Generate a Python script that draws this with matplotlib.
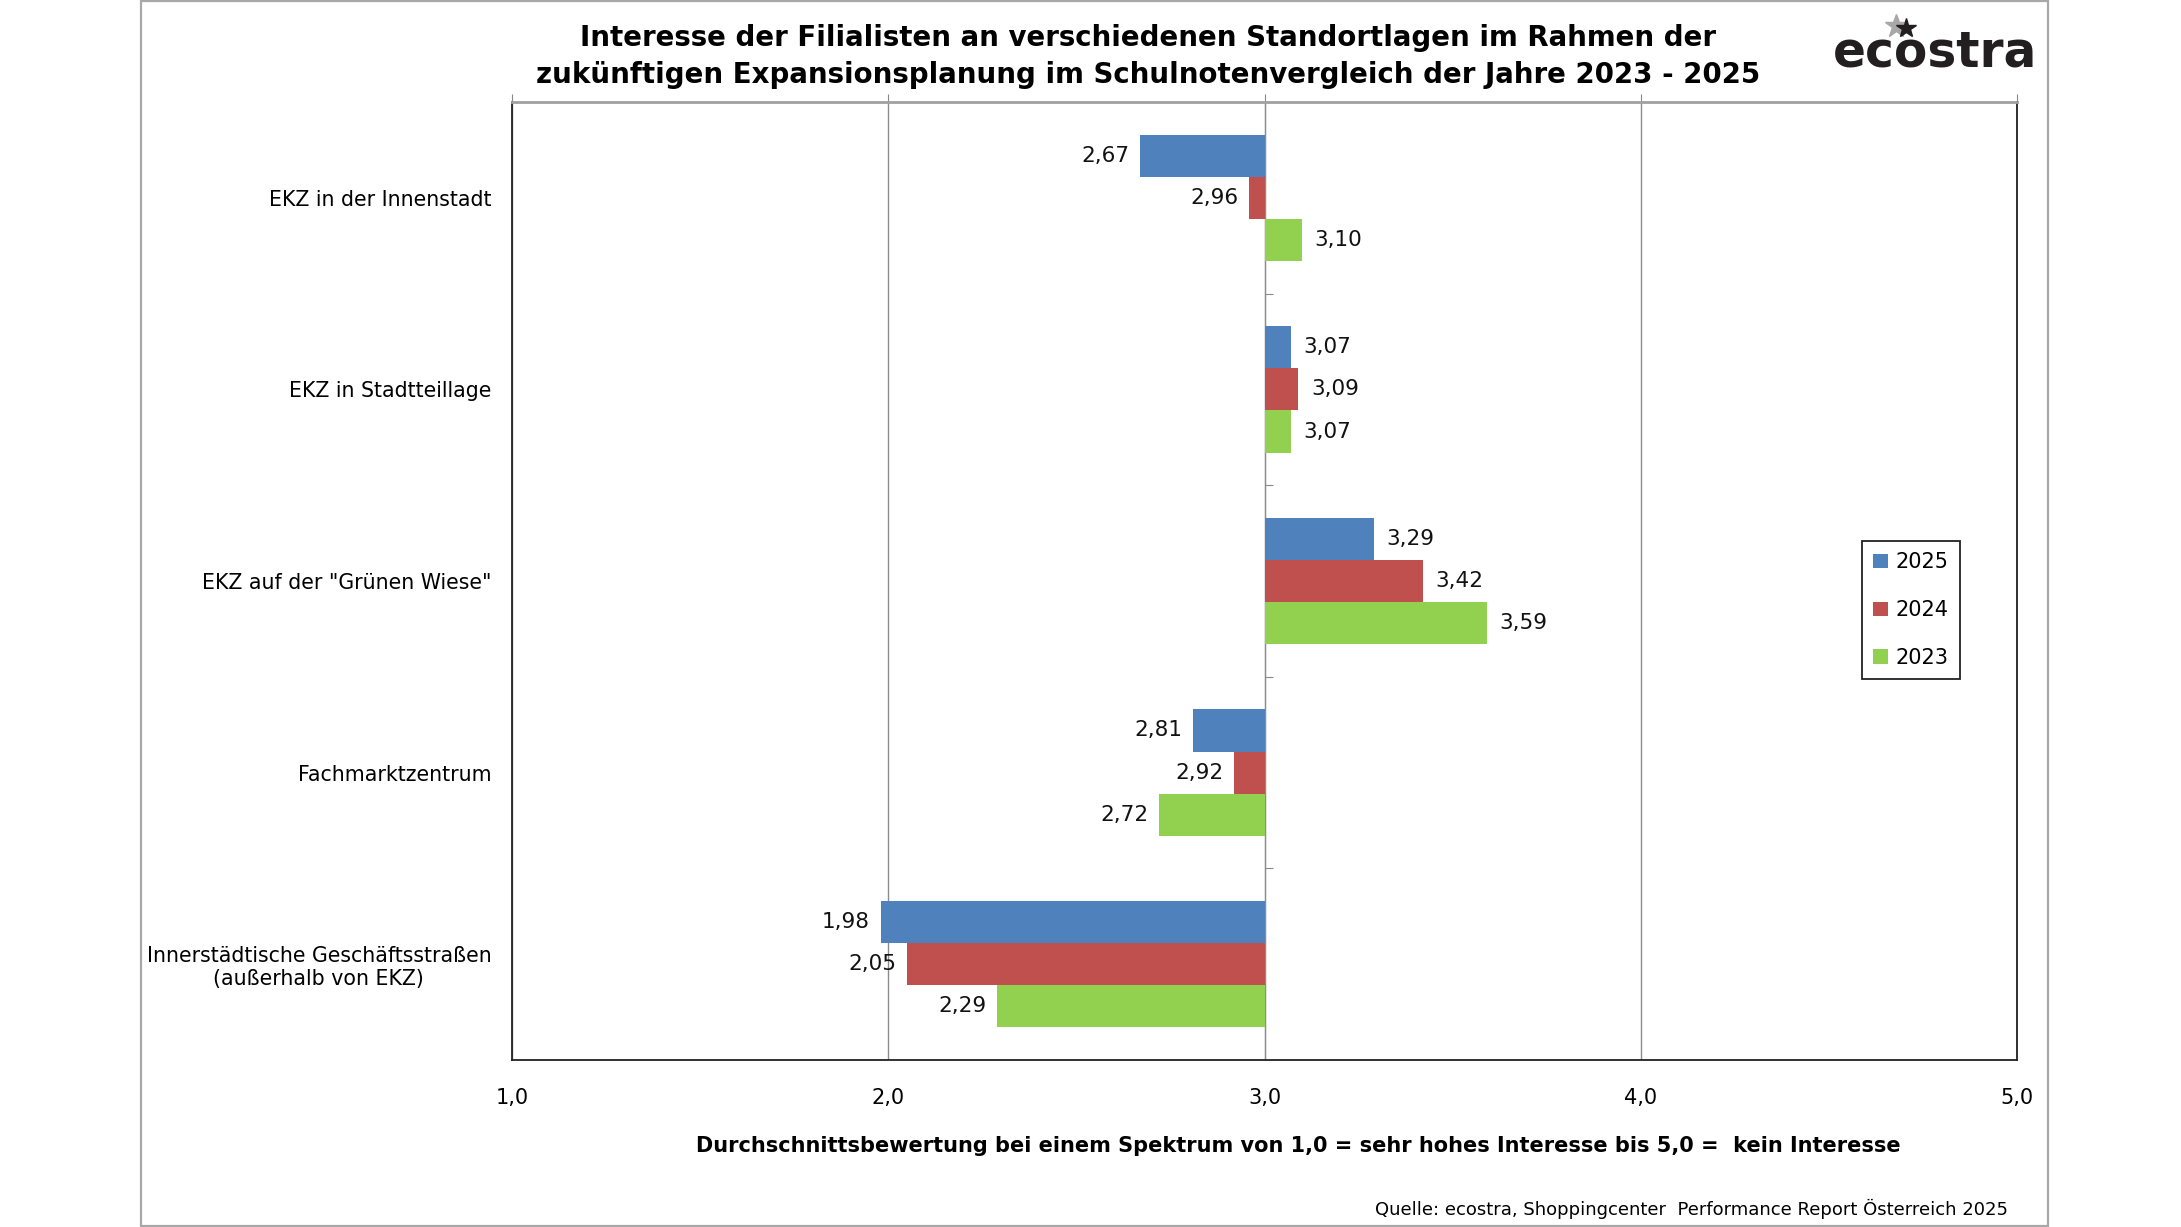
import matplotlib.pyplot as plt
import numpy as np
from matplotlib.lines import Line2D
from matplotlib.patches import Rectangle, Patch

categories = ['EKZ in der Innenstadt', 'EKZ in Stadtteillage', 'EKZ auf der "Grünen Wiese"',
              'Fachmarktzentrum', 'Innerstädtische Geschäftsstraßen\n(außerhalb von EKZ)']
years = ['2025', '2024', '2023']
values_2025 = [2.67, 3.07, 3.29, 2.81, 1.98]
values_2024 = [2.96, 3.09, 3.42, 2.92, 2.05]
values_2023 = [3.10, 3.07, 3.59, 2.72, 2.29]
colors = ['#4F81BD', '#C0504D', '#92D050']
base = 3.0

plt.rcParams['font.family'] = ['DejaVu Sans']

fig = plt.figure(figsize=(21.81, 12.27), dpi=100)
ax = fig.add_axes([0.2348, 0.1361, 0.6900, 0.7808])

y = np.arange(len(categories))
h = 0.22
series = [values_2025, values_2024, values_2023]
for i, (vals, col) in enumerate(zip(series, colors)):
    vals = np.array(vals)
    pos = y + (i - 1) * h
    ax.barh(pos, vals - base, left=base, height=h, color=col, zorder=3)
    for p, v in zip(pos, vals):
        txt = f'{v:.2f}'.replace('.', ',')
        if v < base:
            ax.annotate(txt, (v, p), xytext=(-8, 0), textcoords='offset points',
                        ha='right', va='center', fontsize=15.5, color='#111111')
        else:
            ax.annotate(txt, (v, p), xytext=(9, 0), textcoords='offset points',
                        ha='left', va='center', fontsize=15.5, color='#111111')

ax.set_xlim(1, 5)
ax.set_ylim(len(categories) - 0.5, -0.5)
ax.set_xticks([1, 2, 3, 4, 5])
ax.set_xticklabels(['1,0', '2,0', '3,0', '4,0', '5,0'], fontsize=15)
ax.tick_params(axis='x', top=True, bottom=False, labeltop=False, labelbottom=True,
               direction='out', length=6, color='#888888', pad=14)
ax.set_yticks(y)
ax.set_yticklabels(categories, fontsize=14.8, multialignment='center')
ax.tick_params(axis='y', length=0, pad=15)
ax.grid(axis='x', color='#8c8c8c', linewidth=1.0, zorder=0)

for side in ['left', 'bottom', 'right']:
    ax.spines[side].set_color('#222222')
    ax.spines[side].set_linewidth(1.3)
ax.spines['top'].set_color('#a0a0a0')
ax.spines['top'].set_linewidth(2.0)

# category axis crossing at 3,0
sec = ax.secondary_yaxis(0.5)
sec.set_yticks(np.arange(len(categories) - 1) + 0.5)
sec.set_yticklabels([])
sec.tick_params(length=6, color='#888888', direction='out')
sec.spines['right'].set_color('#8c8c8c')
sec.spines['left'].set_color('#8c8c8c')
sec.spines['left'].set_linewidth(1.0)

ax.set_xlabel('Durchschnittsbewertung bei einem Spektrum von 1,0 = sehr hohes Interesse bis 5,0 =  kein Interesse',
              fontsize=15, fontweight='bold', labelpad=20)
ax.xaxis.label.set_x(0.5223)

handles = [Patch(facecolor=c, edgecolor='none') for c in colors]
leg = fig.legend(handles, years, loc='upper left', bbox_to_anchor=(0.8537, 0.5591),
                 bbox_transform=fig.transFigure, borderaxespad=0, fontsize=15,
                 handlelength=0.68, handleheight=0.68, handletextpad=0.4,
                 labelspacing=1.33, fancybox=False, framealpha=1,
                 borderpad=0.55)
leg.get_frame().set_edgecolor('#222222')
leg.get_frame().set_linewidth(1.3)

fig.text(0.5265, 0.969, 'Interesse der Filialisten an verschiedenen Standortlagen im Rahmen der',
         ha='center', va='center', fontsize=19.9, fontweight='bold')
fig.text(0.5265, 0.939, 'zukünftigen Expansionsplanung im Schulnotenvergleich der Jahre 2023 - 2025',
         ha='center', va='center', fontsize=19.9, fontweight='bold')

fig.text(0.9205, 0.0147, 'Quelle: ecostra, Shoppingcenter  Performance Report Österreich 2025',
         ha='right', va='center', fontsize=13)

# logo
fig.text(0.8405, 0.957, 'ecostra', ha='left', va='center', fontsize=35,
         fontweight='bold', color='#231f20')
fig.add_artist(Line2D([0.8695], [0.979], marker='*', markersize=17, color='#a8a8a8',
                      transform=fig.transFigure))
fig.add_artist(Line2D([0.874], [0.977], marker='*', markersize=15, color='#231f20',
                      transform=fig.transFigure))

# outer frame
fig.add_artist(Rectangle((0.0646, 0.001), 0.8745, 0.998, fill=False,
                         edgecolor='#a8a8a8', linewidth=1.6, transform=fig.transFigure))

fig.savefig('out.png', dpi=100)
